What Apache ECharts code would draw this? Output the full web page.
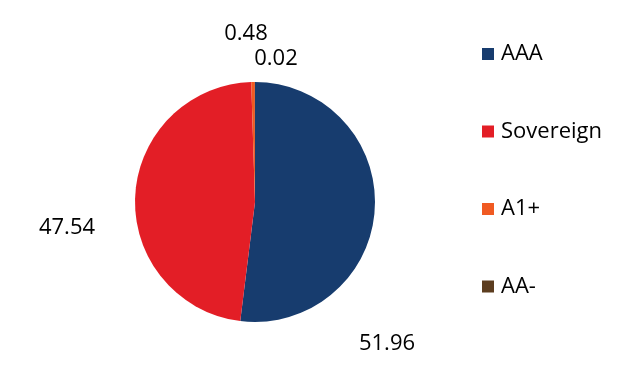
<!DOCTYPE html>
<html>
<head>
<meta charset="utf-8">
<script src="https://cdn.jsdelivr.net/npm/echarts@6/dist/echarts.min.js"></script>
<style>html,body{margin:0;padding:0;background:#fff;}#c{width:643px;height:392px;}</style>
</head>
<body>
<div id="c"></div>
<script>
var categories = ['AAA', 'Sovereign', 'A1+', 'AA-'];
var values = [51.96, 47.54, 0.48, 0.02];
var colors = ['#173c6e', '#e31e26', '#f05a22', '#5c3d1f'];
var labelPos = [[387, 344], [67, 228], [246, 34], [276, 59]];

var chart = echarts.init(document.getElementById('c'), null, {renderer: 'canvas'});
var FONT = '"Open Sans", "Noto Sans", sans-serif';
chart.setOption({
  animation: false,
  color: colors,
  legend: {
    orient: 'vertical',
    left: 482,
    top: 43,
    padding: 0,
    itemWidth: 12,
    itemHeight: 12,
    itemGap: 55.5,
    icon: 'rect',
    textStyle: {fontFamily: FONT, fontSize: 22, color: '#000', padding: [0, 0, 0, 2], lineHeight: 22},
    data: categories
  },
  series: [{
    type: 'pie',
    center: [255, 202],
    radius: [0, 120],
    startAngle: 90,
    clockwise: true,
    label: {
      show: true,
      position: 'outside',
      fontFamily: FONT,
      fontSize: 22,
      color: '#000',
      formatter: function (p) { return p.value.toFixed(2); }
    },
    labelLine: {show: false},
    labelLayout: function (p) {
      var pos = labelPos[p.dataIndex];
      return {x: pos[0], y: pos[1], align: 'center', verticalAlign: 'middle'};
    },
    itemStyle: {borderWidth: 0},
    emphasis: {disabled: true},
    data: categories.map(function (c, i) { return {name: c, value: values[i]}; })
  }]
});
</script>
</body>
</html>
